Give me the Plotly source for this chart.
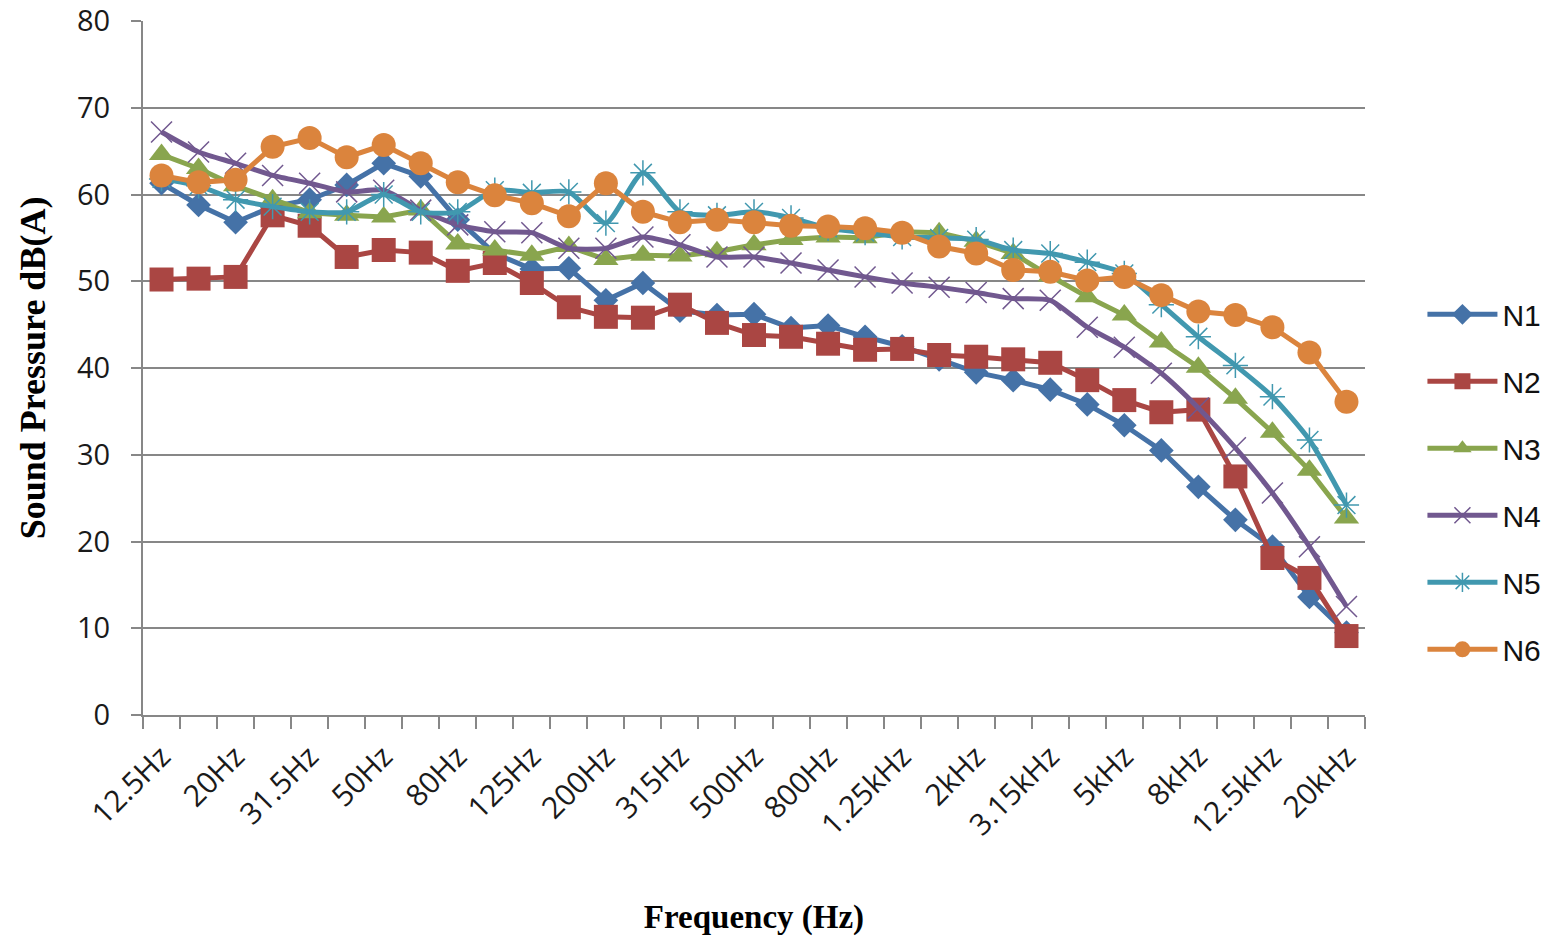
import plotly.graph_objects as go

# One-third-octave band centre frequencies
bands = ["12.5Hz", "16Hz", "20Hz", "25Hz", "31.5Hz", "40Hz", "50Hz", "63Hz", "80Hz",
         "100Hz", "125Hz", "160Hz", "200Hz", "250Hz", "315Hz", "400Hz", "500Hz",
         "630Hz", "800Hz", "1kHz", "1.25kHz", "1.6kHz", "2kHz", "2.5kHz", "3.15kHz",
         "4kHz", "5kHz", "6.3kHz", "8kHz", "10kHz", "12.5kHz", "16kHz", "20kHz"]

# Sound pressure level per band, dB(A), at each measuring point
n1 = [61.3, 58.8, 56.8, 58.6, 59.4, 61.1, 63.6, 62.1, 57.1, 53.2, 51.4, 51.5, 47.8, 49.8,
      46.6, 46.1, 46.2, 44.6, 44.9, 43.6, 42.5, 41.0, 39.5, 38.6, 37.5, 35.8, 33.4, 30.5,
      26.3, 22.5, 19.4, 13.6, 9.5]
n2 = [50.2, 50.3, 50.5, 57.6, 56.4, 52.8, 53.6, 53.3, 51.2, 52.1, 49.8, 47.0, 45.9, 45.8,
      47.3, 45.2, 43.8, 43.6, 42.8, 42.1, 42.2, 41.5, 41.3, 41.0, 40.6, 38.6, 36.3, 34.9,
      35.2, 27.5, 18.1, 15.8, 9.1]
n3 = [64.6, 63.0, 61.0, 59.4, 57.9, 57.6, 57.4, 58.2, 54.3, 53.6, 53.0, 54.0, 52.5, 53.0,
      52.9, 53.4, 54.2, 54.8, 55.1, 55.0, 55.7, 55.6, 54.6, 53.2, 50.6, 48.2, 46.1, 43.0,
      40.1, 36.5, 32.6, 28.2, 22.7]
n4 = [67.2, 64.9, 63.6, 62.2, 61.3, 60.3, 60.5, 58.2, 56.5, 55.7, 55.6, 53.8, 53.8, 55.1,
      54.2, 52.8, 52.8, 52.1, 51.3, 50.5, 49.8, 49.3, 48.7, 48.0, 47.8, 44.7, 42.4, 39.4,
      35.4, 30.8, 25.6, 19.4, 12.5]
n5 = [61.8, 61.0, 59.4, 58.6, 58.0, 58.0, 60.0, 58.0, 58.0, 60.5, 60.2, 60.3, 56.7, 62.5,
      58.0, 57.6, 58.0, 57.3, 56.1, 55.6, 55.1, 55.0, 54.8, 53.6, 53.2, 52.2, 50.9, 47.3,
      43.6, 40.3, 36.7, 31.7, 24.2]
n6 = [62.2, 61.4, 61.7, 65.5, 66.5, 64.3, 65.7, 63.6, 61.4, 59.9, 59.0, 57.5, 61.3, 58.0,
      56.8, 57.1, 56.8, 56.4, 56.3, 56.1, 55.6, 54.0, 53.2, 51.3, 51.1, 50.1, 50.5, 48.4,
      46.5, 46.1, 44.7, 41.8, 36.1]

# Only every other band gets a visible label
tick_text = [b if i % 2 == 0 else "" for i, b in enumerate(bands)]

series = [
    ("N1", n1, "#4572A7", dict(symbol="diamond", size=19), "linear"),
    ("N2", n2, "#AA4643", dict(symbol="square", size=24), "linear"),
    ("N3", n3, "#89A54E", dict(symbol="triangle-up", size=22), "linear"),
    ("N4", n4, "#71588F", dict(symbol="x-thin-open", size=21,
                               line=dict(width=1.5, color="#71588F")), "spline"),
    ("N5", n5, "#4198AF", dict(symbol="asterisk-open", size=21,
                               line=dict(width=1.5, color="#4198AF")), "spline"),
    ("N6", n6, "#DB843D", dict(symbol="circle", size=24), "linear"),
]

fig = go.Figure()
for name, vals, color, marker, shape in series:
    fig.add_trace(go.Scatter(
        x=bands, y=vals, name=name, mode="lines+markers",
        legendgroup=name,
        line=dict(color=color, width=5, shape=shape, smoothing=0.6),
        marker=dict(color=color, **marker),
    ))

axis_grey = "#878787"
fig.update_layout(
    width=1558, height=936,
    margin=dict(l=143, r=183, t=21, b=221),
    paper_bgcolor="white", plot_bgcolor="white",
    font=dict(family="Liberation Sans", color="#1a1a1a"),
    showlegend=True,
    legend=dict(x=1.047, y=0.336, xanchor="left", yanchor="middle",
                font=dict(size=30, family="Liberation Sans", color="#111"),
                tracegroupgap=25, itemwidth=70, bgcolor="rgba(0,0,0,0)"),
    xaxis=dict(
        type="category", range=[-0.5, len(bands) - 0.5], automargin=False,
        tickmode="array", tickvals=bands, ticktext=tick_text,
        tickson="boundaries", ticks="outside", ticklen=12, tickwidth=2,
        tickcolor=axis_grey, showline=True, linecolor=axis_grey, linewidth=2,
        showgrid=False, tickangle=-45, tickfont=dict(size=30, family="Open Sans"),
        ticklabelstandoff=10,
        title=dict(text="<b>Frequency (Hz)</b>", standoff=80,
                   font=dict(size=33, family="Liberation Serif", color="#000")),
    ),
    yaxis=dict(
        range=[0, 80], dtick=10, automargin=False, ticks="outside", ticklen=10,
        tickwidth=2, tickcolor=axis_grey, showline=True, linecolor=axis_grey,
        linewidth=2, showgrid=True, gridcolor=axis_grey, gridwidth=2, zeroline=False,
        tickfont=dict(size=29, family="Open Sans"), ticklabelstandoff=15,
        title=dict(text="<b>Sound Pressure dB(A)</b>", standoff=20,
                   font=dict(size=36, family="Liberation Serif", color="#000")),
    ),
)

fig.write_html("out.html")
